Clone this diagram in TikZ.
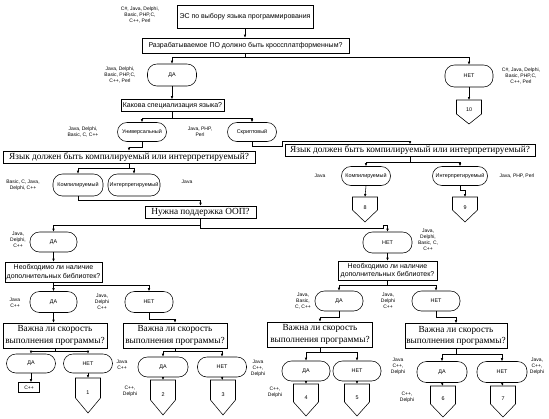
\documentclass[tikz,border=0pt]{standalone}
\usepackage{fontspec}
\setmainfont{Liberation Sans}
\newfontfamily\tmsfont{Liberation Serif}
\usetikzlibrary{arrows.meta}
\newcommand\offpg[6]{%
  \draw (#2-12.5,#3) -- (#2+12.5,#3) -- (#2+12.5,#3+#4) -- (#2,#3+#5) -- (#2-12.5,#3+#4) -- cycle;
  \node[num] (#1) at (#2,#3+#5*0.42) {#6};
  \coordinate (#1t) at (#2,#3);}
\begin{document}
\begin{tikzpicture}[x=1pt,y=-1pt, line width=0.55pt,
  arr/.style={-{Latex[length=3pt,width=2.6pt]}},
  box/.style={draw, inner sep=0pt, align=center, font=\fontsize{7}{8.6}\selectfont},
  sbox/.style={draw, inner sep=0pt, align=center, font=\tmsfont\fontsize{9.3}{11.2}\selectfont},
  term/.style={draw, rounded corners=9.4pt, inner sep=0pt, align=center, font=\fontsize{5.4}{6}\selectfont},
  lbl/.style={inner sep=0pt, align=center, font=\fontsize{5}{6}\selectfont},
  num/.style={inner sep=0pt, font=\fontsize{5.4}{6}\selectfont}]
\useasboundingbox (0,0) rectangle (549,418);
% top
\node[box, minimum width=136, minimum height=23] (es) at (245,16.5) {ЭС по выбору языка программирования};
\node[lbl] (l0) at (140,15) {C\#, Java, Delphi,\\Basic, PHP,C,\\C++, Perl};
\node[box, minimum width=207, minimum height=15] (cross) at (245.5,45.5) {Разрабатываемое ПО должно быть кроссплатформенным?};
\node[term, minimum width=49, minimum height=22] (da1) at (172,75) {ДА};
\node[lbl] (l1) at (120,75) {Java, Delphi,\\Basic, PHP,C,\\C++, Perl};
\node[term, minimum width=48, minimum height=22] (net1) at (469,76) {НЕТ};
\node[lbl] (l2) at (521,76) {C\#, Java, Delphi,\\Basic, PHP,C,\\C++, Perl};
\offpg{p10}{469}{100}{14}{24}{10}
\node[box, minimum width=103, minimum height=12] (spec) at (172.5,105.5) {Какова специализация языка?};
\node[term, minimum width=49, minimum height=19] (univ) at (142,132) {Универсальный};
\node[lbl] (l3) at (83,132) {Java, Delphi,\\Basic, C, C++};
\node[term, minimum width=49, minimum height=19] (script) at (252,132) {Скриптовый};
\node[lbl] (l4) at (200,132) {Java, PHP,\\Perl};
% compiled / interpreted
\node[sbox, minimum width=252, minimum height=12] (lang1) at (129,157) {Язык должен быть компилируемый или интерпретируемый?};
\node[sbox, minimum width=250, minimum height=12] (lang2) at (410,150.5) {Язык должен быть компилируемый или интерпретируемый?};
\node[term, minimum width=50, minimum height=22] (comp1) at (78,185) {Компилируемый};
\node[lbl] (l5) at (23,185) {Basic, C, Java,\\Delphi, C++};
\node[term, minimum width=52, minimum height=22] (interp1) at (134,185) {Интерпретируемый};
\node[lbl] (l6) at (187,182) {Java};
\node[term, minimum width=49, minimum height=19] (comp2) at (366,176) {Компилируемый};
\node[lbl] (l7) at (320,176) {Java};
\node[term, minimum width=55, minimum height=19] (interp2) at (460,176) {Интерпретируемый};
\node[lbl] (l8) at (517,176) {Java, PHP, Perl};
\offpg{p8}{365}{197}{13}{25}{8}
\offpg{p9}{465}{197}{13}{25}{9}
% OOP
\node[sbox, minimum width=111, minimum height=12] (oop) at (200.5,212) {Нужна поддержка ООП?};
\node[term, minimum width=47, minimum height=20] (da2) at (53.5,242) {ДА};
\node[lbl] (l9) at (18,240) {Java,\\Delphi,\\C++};
\node[term, minimum width=49, minimum height=21] (net2) at (387.5,242.5) {НЕТ};
\node[lbl] (l10) at (428,240) {Java,\\Delphi,\\Basic, C,\\C++};
\node[box, minimum width=97, minimum height=20] (lib1) at (53.5,272) {Необходимо ли наличие\\дополнительных библиотек?};
\node[box, minimum width=99, minimum height=19] (lib2) at (387.5,270.5) {Необходимо ли наличие\\дополнительных библиотек?};
\node[term, minimum width=47, minimum height=21] (da3) at (53.5,302) {ДА};
\node[lbl] (l11) at (15,303) {Java\\C++};
\node[term, minimum width=48, minimum height=21] (net3) at (149,302) {НЕТ};
\node[lbl] (l12) at (102,302) {Java,\\Delphi\\C++};
\node[term, minimum width=48, minimum height=20] (da4) at (339,301) {ДА};
\node[lbl] (l13) at (303,301) {Java,\\Basic,\\C, C++};
\node[term, minimum width=48, minimum height=20] (net4) at (436,301) {НЕТ};
\node[lbl] (l14) at (388,301) {Java,\\Delphi\\C++};
% speed
\node[sbox, minimum width=104, minimum height=25] (spA) at (55,335.5) {Важна ли скорость\\выполнения программы?};
\node[sbox, minimum width=104, minimum height=25] (spB) at (175,335.5) {Важна ли скорость\\выполнения программы?};
\node[sbox, minimum width=105, minimum height=25] (spC) at (320,334.5) {Важна ли скорость\\выполнения программы?};
\node[sbox, minimum width=102, minimum height=25] (spD) at (456,336) {Важна ли скорость\\выполнения программы?};
\node[term, minimum width=49, minimum height=19] (Ada) at (31,363.5) {ДА};
\node[term, minimum width=49, minimum height=19] (Anet) at (88,363.5) {НЕТ};
\node[draw, inner sep=0pt, minimum width=21, minimum height=10, font=\fontsize{5}{6}\selectfont] (cpp) at (29,387.5) {C++};
\offpg{p1}{88}{378}{20}{35}{1}
\node[lbl] (l15) at (122,365) {Java\\C++};
\node[term, minimum width=50, minimum height=20] (Bda) at (163,367) {ДА};
\node[term, minimum width=49, minimum height=20] (Bnet) at (222,367) {НЕТ};
\offpg{p2}{163}{380}{20}{35}{2}
\offpg{p3}{223}{380}{20}{35}{3}
\node[lbl] (l16) at (130,391) {C++,\\Delphi};
\node[lbl] (l17) at (258,368) {Java\\C++,\\Delphi};
\node[term, minimum width=48, minimum height=20] (Cda) at (306,371) {ДА};
\node[term, minimum width=48, minimum height=20] (Cnet) at (357,371) {НЕТ};
\offpg{p4}{306}{384}{18}{32}{4}
\offpg{p5}{357}{384}{18}{32}{5}
\node[lbl] (l18) at (275,392) {C++,\\Delphi};
\node[term, minimum width=50, minimum height=21] (Dda) at (442,372) {ДА};
\node[term, minimum width=50, minimum height=21] (Dnet) at (502,372) {НЕТ};
\offpg{p6}{443}{386}{18}{31}{6}
\offpg{p7}{503}{386}{18}{31}{7}
\node[lbl] (l19) at (398,366) {Java\\C++,\\Delphi};
\node[lbl] (l20) at (537,366) {Java,\\C++,\\Delphi};
\node[lbl] (l21) at (407,397) {C++,\\Delphi};
% waypoints
\coordinate (w1) at (282,146.5);
\coordinate (w2) at (282,141);
\coordinate (w3) at (383,228);
\coordinate (w4) at (383,225);
% connectors
\draw[arr] (es.south) -- (es.south |- cross.north);
\draw[arr] (cross.south) -- ++(0,4) -| (da1.north);
\draw[arr] (cross.south) -- ++(0,4) -| (net1.north);
\draw[arr] (net1.south) -- (p10t);
\draw[arr] (da1.south) -- (da1.south |- spec.north);
\draw[arr] (spec.south) -- ++(0,6) -| (univ.north);
\draw[arr] (spec.south) -- ++(0,6) -| (script.north);
\draw[arr] (univ.south) -- ++(0,5) -| (lang1.north);
\draw[arr] (script.south) |- (w1) -- (w2) -| (lang2.north);
\draw[arr] (lang1.south) -- ++(0,5) -| (comp1.north);
\draw[arr] (lang1.south) -- ++(0,5) -| (interp1.north);
\draw[arr] (lang2.south) -- ++(0,5) -| (comp2.north);
\draw[arr] (lang2.south) -- ++(0,5) -| (interp2.north);
\draw[arr] (comp2.south) -- (p8t);
\draw[arr] (interp2.south) -- ++(0,4) -| (p9t);
\draw[arr] (comp1.south) -- ++(0,4) -| (oop.north);
\draw[arr] (oop.south) -- ++(0,7) -| (da2.north);
\draw[arr] (oop.south) |- (w3) -- (w4) -| (net2.north);
\draw[arr] (da2.south) -- (da2.south |- lib1.north);
\draw[arr] (net2.south) -- (net2.south |- lib2.north);
\draw[arr] (lib1.south) -- ++(0,3) -| (da3.north);
\draw[arr] (lib1.south) -- ++(0,3) -| (net3.north);
\draw[arr] (lib2.south) -- ++(0,5) -| (da4.north);
\draw[arr] (lib2.south) -- ++(0,5) -| (net4.north);
\draw[arr] (da3.south) -- (da3.south |- spA.north);
\draw[arr] (net3.south) -- ++(0,6) -| (spB.north);
\draw[arr] (da4.south) -- ++(0,6) -| (spC.north);
\draw[arr] (net4.south) -- ++(0,6) -| (spD.north);
\draw[arr] (spA.south) -- ++(0,3) -| (Ada.north);
\draw[arr] (spA.south) -- ++(0,3) -| (Anet.north);
\draw[arr] (spB.south) -- ++(0,3) -| (Bda.north);
\draw[arr] (spB.south) -- ++(0,3) -| (Bnet.north);
\draw[arr] (spC.south) -- ++(0,5) -| (Cda.north);
\draw[arr] (spC.south) -- ++(0,5) -| (Cnet.north);
\draw[arr] (spD.south) -- ++(0,5) -| (Dda.north);
\draw[arr] (spD.south) -- ++(0,5) -| (Dnet.north);
\draw[arr] (Ada.south) -- (Ada.south |- cpp.north);
\draw[arr] (Anet.south) -- (p1t);
\draw[arr] (Bda.south) -- (p2t);
\draw[arr] (Bnet.south) -- (p3t);
\draw[arr] (Cda.south) -- (p4t);
\draw[arr] (Cnet.south) -- (p5t);
\draw[arr] (Dda.south) -- (p6t);
\draw[arr] (Dnet.south) -- (p7t);
\end{tikzpicture}
\end{document}
